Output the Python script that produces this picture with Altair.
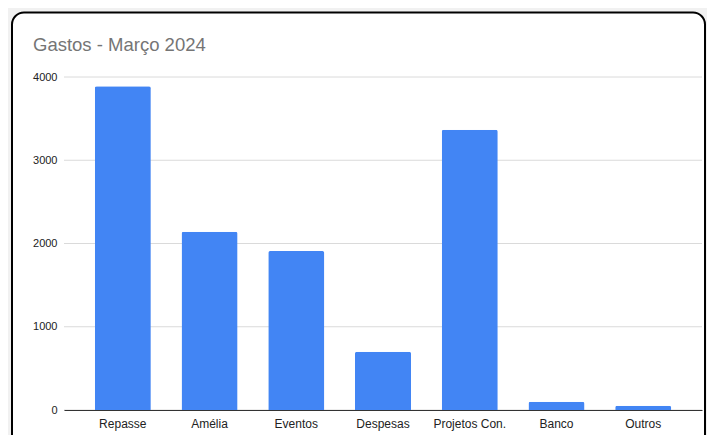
import altair as alt
import pandas as pd

categories = ["Repasse", "Amélia", "Eventos", "Despesas", "Projetos Con.", "Banco", "Outros"]
values = [3890, 2140, 1910, 700, 3365, 98, 52]
y_ticks = [0, 1000, 2000, 3000, 4000]
title_text = ["Gastos - Março 2024"]

df = pd.DataFrame({"cat": categories, "val": values})
grid_df = pd.DataFrame({"v": y_ticks})
title_df = pd.DataFrame({"t": title_text})

W, H = 638, 333
FONT = "Liberation Sans"

xenc = alt.X(
    "cat:N",
    sort=categories,
    title=None,
    scale=alt.Scale(paddingInner=0.354, paddingOuter=0.355),
    axis=alt.Axis(
        labelAngle=0, ticks=False, domain=True, domainColor="#333333", domainWidth=1,
        labelFont=FONT, labelFontSize=12, labelColor="#222222", labelPadding=8,
        grid=False, zindex=1,
    ),
)
yenc = alt.Y(
    "val:Q",
    title=None,
    scale=alt.Scale(domain=[0, 4000], nice=False),
    axis=alt.Axis(
        values=y_ticks, ticks=False, domain=False, grid=False,
        labelFont=FONT, labelFontSize=11, labelColor="#222222", labelPadding=7,
        format="d", zindex=1,
    ),
)

border = alt.Chart(alt.Data(values=[{"a": 1}])).mark_rect(
    fill="white", stroke="black", strokeWidth=2, cornerRadius=12
).encode(
    x=alt.value(-52), x2=alt.value(641), y=alt.value(-64.5), y2=alt.value(385)
)

grid = alt.Chart(grid_df).mark_rule(color="#dadada", strokeWidth=1).encode(
    y=alt.Y("v:Q", scale=alt.Scale(domain=[0, 4000], nice=False))
)

bars = alt.Chart(df).mark_bar(
    color="#4285f4", cornerRadiusTopLeft=2, cornerRadiusTopRight=2
).encode(x=xenc, y=yenc)

title = alt.Chart(title_df).mark_text(
    align="left", baseline="alphabetic", font=FONT, fontSize=18.5, color="#757575"
).encode(text="t:N", x=alt.value(-31), y=alt.value(-26))

chart = alt.layer(border, grid, bars, title).properties(
    width=W, height=H,
    autosize=alt.AutoSizeParams(type="none"),
    padding={"left": 56, "top": 69, "right": 5, "bottom": 25},
    background="#f1f1f1",
).configure_view(stroke=None)

chart.save("out.html", embed_options={"renderer": "svg", "actions": False})
